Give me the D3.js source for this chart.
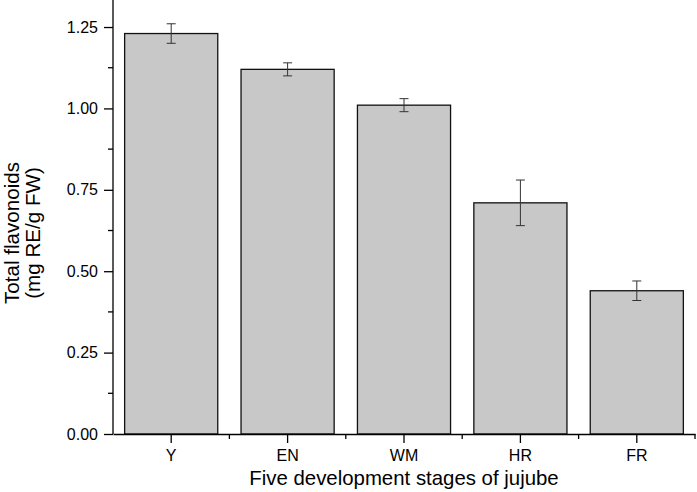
<!DOCTYPE html>
<html>
<head>
<meta charset="utf-8">
<script src="https://cdn.jsdelivr.net/npm/d3@7"></script>
<style>
	body { margin: 0; background: #fff; }
	text { font-family: "Liberation Sans", Arial, sans-serif; fill: #000; }
</style>
</head>
<body>
<svg id="chart" width="697" height="492"></svg>
<script>
const STAGES = ["Y", "EN", "WM", "HR", "FR"];
const MEANS = [1.23, 1.12, 1.01, 0.71, 0.44];
const ERRORS = [0.03, 0.02, 0.02, 0.07, 0.03];
const Y_TICKS = [0, 0.25, 0.5, 0.75, 1.0, 1.25];

const svg = d3.select("#chart");
const margin = { top: 0, right: 2, bottom: 58, left: 113 };
const width = +svg.attr("width");
const height = +svg.attr("height");

const xScale = d3.scaleBand()
	.domain(STAGES)
	.range([margin.left, width - margin.right])
	.paddingInner(0.2)
	.paddingOuter(0.1);

const yScale = d3.scaleLinear()
	.domain([0, 1.333])
	.range([height - margin.bottom, margin.top]);

// bars
svg.append("g")
	.selectAll("rect")
	.data(STAGES)
	.join("rect")
	.attr("x", d => xScale(d))
	.attr("y", (d, i) => yScale(MEANS[i]))
	.attr("width", xScale.bandwidth())
	.attr("height", (d, i) => yScale(0) - yScale(MEANS[i]))
	.attr("fill", "#c8c8c8")
	.attr("stroke", "#111")
	.attr("stroke-width", 1.3);

// error bars
const err = svg.append("g")
	.attr("stroke", "#333")
	.attr("stroke-width", 1);
STAGES.forEach((s, i) => {
	const cx = xScale(s) + xScale.bandwidth() / 2;
	const hi = yScale(MEANS[i] + ERRORS[i]);
	const lo = yScale(MEANS[i] - ERRORS[i]);
	err.append("line").attr("x1", cx).attr("x2", cx).attr("y1", hi).attr("y2", lo);
	err.append("line").attr("x1", cx - 4.5).attr("x2", cx + 4.5).attr("y1", hi).attr("y2", hi);
	err.append("line").attr("x1", cx - 4.5).attr("x2", cx + 4.5).attr("y1", lo).attr("y2", lo);
});

// y axis
const yAxis = svg.append("g")
	.attr("transform", `translate(${margin.left}, 0)`)
	.call(d3.axisLeft(yScale)
		.tickValues(Y_TICKS)
		.tickFormat(d3.format(".2f"))
		.tickSize(9)
		.tickSizeOuter(0)
		.tickPadding(6));
yAxis.select(".domain").attr("stroke", "#000").attr("stroke-width", 1.3)
	.attr("d", `M0,${yScale(0)}V0`);
yAxis.selectAll(".tick line").attr("stroke-width", 1.3);
yAxis.selectAll("text").style("font-size", "16px").style("font-family", "Liberation Sans, Arial, sans-serif");

// minor y ticks
svg.append("g")
	.selectAll("line")
	.data(Y_TICKS.map(t => t + 0.125))
	.join("line")
	.attr("x1", margin.left - 5)
	.attr("x2", margin.left)
	.attr("y1", d => yScale(d))
	.attr("y2", d => yScale(d))
	.attr("stroke", "#000")
	.attr("stroke-width", 1.3);

// x axis
const xAxis = svg.append("g")
	.attr("transform", `translate(0, ${yScale(0)})`)
	.call(d3.axisBottom(xScale)
		.tickSize(9)
		.tickSizeOuter(0)
		.tickPadding(7));
xAxis.select(".domain").attr("stroke", "#000").attr("stroke-width", 1.3);
xAxis.selectAll(".tick line").attr("stroke-width", 1.3);
xAxis.selectAll("text").style("font-size", "16px").style("font-family", "Liberation Sans, Arial, sans-serif");

// minor x ticks between categories
const step = xScale.step();
svg.append("g")
	.selectAll("line")
	.data(STAGES)
	.join("line")
	.attr("x1", d => xScale(d) + xScale.bandwidth() / 2 + step / 2)
	.attr("x2", d => xScale(d) + xScale.bandwidth() / 2 + step / 2)
	.attr("y1", yScale(0))
	.attr("y2", yScale(0) + 5)
	.attr("stroke", "#000")
	.attr("stroke-width", 1.3);

// axis titles
svg.append("text")
	.attr("x", 404)
	.attr("y", 485)
	.attr("text-anchor", "middle")
	.style("font-size", "20.4px")
	.text("Five development stages of jujube");

const yTitle = svg.append("text")
	.attr("transform", "translate(0, 233) rotate(-90)")
	.attr("text-anchor", "middle")
	.style("font-size", "20.6px");
yTitle.append("tspan").attr("x", 0).attr("y", 19).text("Total flavonoids");
yTitle.append("tspan").attr("x", 0).attr("y", 40).text("(mg RE/g FW)");
</script>
</body>
</html>
